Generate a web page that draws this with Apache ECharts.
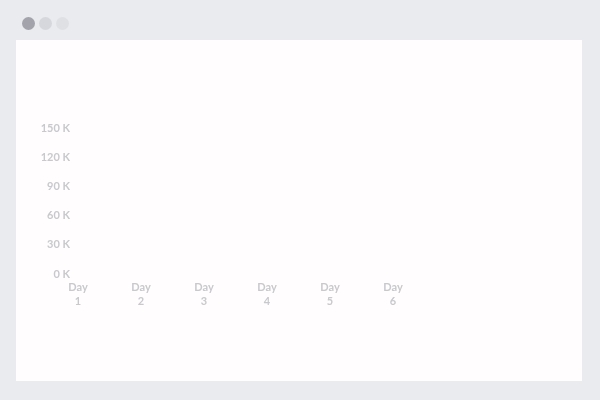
<!DOCTYPE html>
<html>
<head>
<meta charset="utf-8">
<script src="https://cdn.jsdelivr.net/npm/echarts@6/dist/echarts.min.js"></script>
<style>
  html,body{margin:0;padding:0;width:600px;height:400px;background:#eaebef;overflow:hidden;}
  .dot{position:absolute;top:17px;width:13px;height:13px;border-radius:50%;}
  #panel{position:absolute;left:16px;top:40px;width:566px;height:341px;background:#fffdfe;}
  #chart{position:absolute;left:0;top:0;width:600px;height:400px;}
</style>
</head>
<body>
<div class="dot" style="left:22px;background:#a3a4ab;"></div>
<div class="dot" style="left:39px;background:#d6d7dc;"></div>
<div class="dot" style="left:56px;background:#dfe0e4;"></div>
<div id="panel"></div>
<div id="chart"></div>
<script>
const categories = ["Day\n1", "Day\n2", "Day\n3", "Day\n4", "Day\n5", "Day\n6"];
const seriesValues = [0, 0, 0, 0, 0, 0];
const yTicks = [0, 30000, 60000, 90000, 120000, 150000];

const chart = echarts.init(document.getElementById('chart'), null, {renderer: 'canvas'});
const labelColor = '#c9c9cd';
chart.setOption({
  backgroundColor: 'transparent',
  animation: false,
  grid: {left: 78, top: 128, width: 315, height: 146, containLabel: false},
  xAxis: {
    type: 'category',
    data: categories,
    boundaryGap: false,
    axisLine: {show: false},
    axisTick: {show: false},
    splitLine: {show: false},
    axisLabel: {
      color: labelColor, fontFamily: 'Lato', fontWeight: 'bold', fontSize: 11,
      lineHeight: 14, margin: 6, interval: 0
    }
  },
  yAxis: {
    type: 'value',
    min: yTicks[0],
    max: yTicks[yTicks.length - 1],
    interval: yTicks[1] - yTicks[0],
    axisLine: {show: false},
    axisTick: {show: false},
    splitLine: {show: false},
    axisLabel: {
      color: labelColor, fontFamily: 'Lato', fontWeight: 'bold', fontSize: 11, margin: 8,
      formatter: v => (v / 1000) + ' K'
    }
  },
  series: [{
    type: 'bar',
    data: seriesValues,
    barWidth: 20,
    itemStyle: {color: '#dcdce0'}
  }]
});
</script>
</body>
</html>
